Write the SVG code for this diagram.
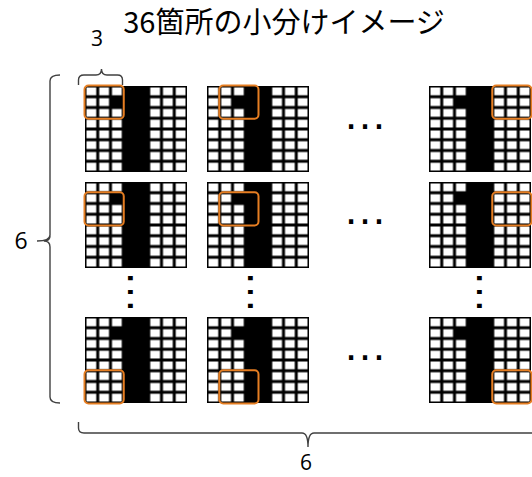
<svg xmlns="http://www.w3.org/2000/svg" width="532" height="477" viewBox="0 0 532 477">
<style>
.lbl{font-family:"Open Sans","Liberation Sans",sans-serif;fill:#000;text-anchor:middle}
.title{font-family:"Noto Sans CJK JP","Noto Sans",sans-serif;font-size:29px;fill:#000;text-anchor:middle}
.dots{font-family:"Liberation Sans",Arial,sans-serif;font-size:44px;fill:#000;text-anchor:middle}
.win{fill:none;stroke:#E67E22;stroke-width:2}
.brace{fill:none;stroke:#404040;stroke-width:1.4}
</style>
<defs>
<pattern id="cells" width="12.75" height="10.75" patternUnits="userSpaceOnUse">
<rect x="1.5" y="1.5" width="9.75" height="7.75" fill="#fff"/>
</pattern>
<g id="blk">
<rect x="0" y="0" width="102" height="86" fill="#000"/>
<rect x="0" y="0" width="38.25" height="86" fill="url(#cells)"/>
<rect x="63.75" y="0" width="38.25" height="86" fill="url(#cells)"/>
<rect x="25.5" y="10.75" width="13" height="10.75" fill="#000"/>
</g>
</defs>
<rect width="532" height="477" fill="#fff"/>
<text class="title" x="284" y="33">36箇所の小分けイメージ</text>

<g id="b11" transform="translate(85,86)"><use href="#blk"/><rect class="win" x="-0.5" y="-0.5" width="39.25" height="33.25" rx="4"/></g>
<g id="b12" transform="translate(207,86)"><use href="#blk"/><rect class="win" x="12.25" y="-0.5" width="39.25" height="33.25" rx="4"/></g>
<g id="b13" transform="translate(429,86)"><use href="#blk"/><rect class="win" x="63.25" y="-0.5" width="39.25" height="33.25" rx="4"/></g>
<g id="b21" transform="translate(85,182)"><use href="#blk"/><rect class="win" x="-0.5" y="10.25" width="39.25" height="33.25" rx="4"/></g>
<g id="b22" transform="translate(207,182)"><use href="#blk"/><rect class="win" x="12.25" y="10.25" width="39.25" height="33.25" rx="4"/></g>
<g id="b23" transform="translate(429,182)"><use href="#blk"/><rect class="win" x="63.25" y="10.25" width="39.25" height="33.25" rx="4"/></g>
<g id="b31" transform="translate(85,317)"><use href="#blk"/><rect class="win" x="-0.5" y="53.25" width="39.25" height="33.25" rx="4"/></g>
<g id="b32" transform="translate(207,317)"><use href="#blk"/><rect class="win" x="12.25" y="53.25" width="39.25" height="33.25" rx="4"/></g>
<g id="b33" transform="translate(429,317)"><use href="#blk"/><rect class="win" x="63.25" y="53.25" width="39.25" height="33.25" rx="4"/></g>

<g id="ellipses">
<text class="dots" x="365" y="129">…</text>
<text class="dots" x="365" y="224">…</text>
<text class="dots" x="365" y="360">…</text>
<text class="dots" transform="translate(130,292) rotate(90)" x="0" y="2.2">…</text>
<text class="dots" transform="translate(250,292) rotate(90)" x="0" y="2.2">…</text>
<text class="dots" transform="translate(479,292) rotate(90)" x="0" y="2.2">…</text>
</g>

<g id="connectors">
<path class="brace" d="M78.5,85 V80 Q78.5,75 84,75 H96 Q101.5,75 101.5,69 Q101.5,75 107,75 H117.5 Q122.5,75 122.5,80 V85"/>
<path class="brace" d="M60,75 Q50,75 50,81 V235 Q50,241 37,241 M50,236 Q50,241 44,241 M44,241 Q50,241 50,247 V397 Q50,403 60,403"/>
<path class="brace" d="M78.5,422 V428 Q78.5,433 84,433 H302 Q308,433 308,447 Q308,433 314,433 H540"/>
</g>

<g id="labels">
<text class="lbl" x="97" y="46" font-size="21">3</text>
<text class="lbl" x="21" y="249" font-size="23">6</text>
<text class="lbl" x="306" y="470" font-size="21">6</text>
</g>
</svg>
